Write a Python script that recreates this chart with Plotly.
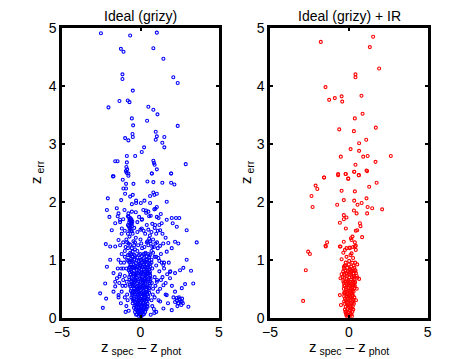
import plotly.graph_objects as go

# left panel: Ideal (grizy)
grizy_tail_x = [-2.52, -0.66, 1.04, -1.25, -1.08, 0.82, 1.46, -1.15, -1.15, 2.09, 2.37,
                -0.49, -1.34, -0.81, -0.70, -2.04, 0.50, 0.82, 1.08, -0.55, 0.42, -0.47,
                2.37, 0.97, -0.51, -0.98, -0.77, -0.49, 1.04, 0.97, 1.52, 1.39, 1.52, 0.23,
                0.08, -0.87, -0.34, -1.61, -1.46, -0.87, 0.82, 0.86, 0.90, 2.88, -0.90,
                -0.85, -0.93, -0.88, 0.72, 1.04, 1.95, -1.72]
grizy_tail_y = [4.91, 4.87, 4.92, 4.64, 4.59, 4.65, 4.47, 4.20, 4.12, 4.15, 4.05,
                3.92, 3.74, 3.75, 3.72, 3.63, 3.64, 3.59, 3.51, 3.44, 3.40, 3.32,
                3.31, 3.21, 3.17, 3.10, 3.06, 3.12, 3.13, 3.07, 3.12, 3.02, 2.94, 2.94,
                2.86, 2.79, 2.79, 2.70, 2.70, 2.68, 2.71, 2.67, 2.64, 2.65, 2.60,
                2.56, 2.53, 2.50, 2.49, 2.56, 2.49, 2.44]

grizy_mid_x = [-1.76, -0.77, -0.77, 0.72, 1.95, -1.13, 0.44, 0.82, 1.39, 1.95, 2.16,
               -0.92, -0.45, -1.09, -0.92, 0.82, 1.04, 0.61, 0.88, -0.49, -0.66, -0.28,
               -0.98, -2.08, -1.23, -0.55, -0.28, 0.02, 0.25, 0.61, 1.67, 1.04, 0.88,
               0.18, 0.50, 0.36, 1.29, -2.14, -1.51, -1.40, -1.02, -0.77, -0.55,
               -0.80, -0.70, -0.62, -0.55, -0.75, -0.66, -0.58,
               -1.98, -1.61, -1.30, -0.09, 0.08, 0.65, 1.04, 1.35, 1.67, 1.99, 2.26, 2.47,
               -1.83, -1.19, -0.55, 0.08, 0.93, 1.25, 2.05, 2.31, 2.94, 3.58,
               -2.21, -1.93, -1.40, -1.61, 0.40, 0.61, 1.77, 2.20, 2.41,
               -1.20, -1.00, -0.80, -0.60, -0.40, -0.20, 0.10, 0.30, 0.50, 0.70, 0.90,
               1.10, 1.30, -1.40, 1.50, -0.90, -0.70, -0.50, -0.30, 0.60, 0.80, 1.00,
               -0.80, -0.60, -0.70, -0.65, -0.55, 0.20, 0.40, 1.20, -1.10, 0.00,
               -0.85, -0.45, 0.55, 0.75, 0.95, -0.35, -0.65]
grizy_mid_y = [2.44, 2.49, 2.45, 2.49, 2.49, 2.38, 2.35, 2.34, 2.33, 2.33, 2.30,
               2.31, 2.31, 2.23, 2.23, 2.16, 2.14, 2.10, 2.12, 2.12, 2.09, 2.02,
               2.14, 2.06, 2.03, 1.96, 1.98, 1.98, 2.02, 1.98, 2.00, 1.91, 1.87,
               1.86, 1.83, 1.81, 1.79, 1.86, 1.89, 1.80, 1.86, 1.80, 1.83,
               1.75, 1.70, 1.66, 1.62, 1.58, 1.56, 1.68,
               1.74, 1.63, 1.69, 1.74, 1.69, 1.76, 1.74, 1.63, 1.69, 1.72, 1.72, 1.72,
               1.51, 1.54, 1.49, 1.54, 1.60, 1.51, 1.63, 1.57, 1.51, 1.30,
               1.27, 1.23, 1.34, 1.23, 1.30, 1.32, 1.29, 1.31, 1.28,
               1.10, 1.15, 1.20, 1.10, 1.25, 1.15, 1.20, 1.10, 1.25, 1.15, 1.05,
               1.20, 1.10, 1.00, 0.95, 1.35, 1.40, 1.45, 1.38, 1.42, 1.35, 1.45,
               1.60, 1.65, 1.55, 1.72, 1.58, 1.50, 1.60, 1.60, 1.70, 1.35,
               1.30, 1.32, 1.36, 1.22, 1.28, 1.18, 1.26]

grizy_mid2_x = [-1.30, -1.10, -0.95, -0.75, -0.55, -0.35, -0.15, 0.05, 0.25, 0.45, 0.65,
                0.85, 1.05, 1.25, 1.45,
                -1.20, -1.00, -0.80, -0.60, -0.40, -0.20, 0.00, 0.30, 0.50, 0.70, 0.90,
                1.10, 1.40, 1.60,
                -1.00, -0.80, -0.50, -0.10, 0.20, 0.40, 0.60, 0.80, 1.00, 1.20, -1.25,
                -0.72, -0.62, -0.68, -0.58, -0.75, -0.52, -0.70,
                -1.30, -0.20, 0.10, 0.55, 0.75, 1.15, -0.30, 0.35, -1.45, 0.95]
grizy_mid2_y = [1.25, 1.30, 1.22, 1.28, 1.20, 1.30, 1.25, 1.28, 1.22, 1.32, 1.28,
                1.22, 1.30, 1.24, 1.28,
                1.45, 1.50, 1.45, 1.50, 1.55, 1.48, 1.52, 1.45, 1.52, 1.48, 1.55,
                1.50, 1.45, 1.38,
                1.05, 1.08, 1.05, 1.08, 1.10, 1.06, 1.08, 1.12, 1.05, 0.98, 0.95,
                1.65, 1.62, 1.68, 1.70, 1.74, 1.66, 1.50,
                1.65, 1.65, 1.70, 1.75, 1.62, 1.72, 1.82, 1.85, 1.75, 1.88]

grizy_core_x = [-0.12, 0.05, 0.15, -0.22, 0.00,
                -0.35, -0.18, 0.02, 0.20, 0.30, -0.05,
                -0.42, -0.28, -0.10, 0.08, 0.25, 0.38, -0.20, 0.15,
                -0.50, -0.35, -0.18, 0.00, 0.18, 0.35, 0.45, -0.08, 0.28,
                -0.58, -0.42, -0.25, -0.10, 0.07, 0.22, 0.40, 0.50, -0.35, 0.12, 0.32,
                -0.62, -0.48, -0.30, -0.15, 0.02, 0.18, 0.35, 0.52, -0.40, -0.05, 0.27, 0.45,
                -0.68, -0.52, -0.36, -0.20, -0.04, 0.12, 0.28, 0.44, 0.58, -0.60, -0.28, 0.05, 0.36,
                -0.72, -0.56, -0.40, -0.24, -0.08, 0.08, 0.24, 0.40, 0.56, -0.48, -0.15, 0.18, 0.48,
                -0.75, -0.60, -0.42, -0.26, -0.10, 0.06, 0.22, 0.38, 0.55, -0.35, 0.00, 0.30,
                -0.70, -0.50, -0.30, -0.12, 0.10, 0.30, 0.50, -0.60, -0.20, 0.20,
                -0.05, 0.10, -0.20, 0.20, -0.45, 0.15, -0.30, 0.30, 0.00, -0.15, 0.05,
                -0.55, -0.38, -0.02, 0.42, -0.65, 0.55, -0.12, 0.25]
grizy_core_y = [0.03, 0.02, 0.05, 0.06, 0.07,
                0.10, 0.11, 0.09, 0.12, 0.10, 0.13,
                0.17, 0.16, 0.18, 0.16, 0.18, 0.15, 0.21, 0.22,
                0.25, 0.27, 0.24, 0.26, 0.25, 0.27, 0.24, 0.30, 0.31,
                0.35, 0.33, 0.36, 0.34, 0.37, 0.35, 0.33, 0.37, 0.40, 0.41, 0.42,
                0.46, 0.44, 0.47, 0.45, 0.48, 0.46, 0.44, 0.47, 0.51, 0.52, 0.53, 0.52,
                0.57, 0.58, 0.56, 0.59, 0.57, 0.60, 0.58, 0.56, 0.59, 0.63, 0.64, 0.65, 0.64,
                0.70, 0.68, 0.71, 0.69, 0.72, 0.70, 0.68, 0.71, 0.69, 0.76, 0.77, 0.76, 0.77,
                0.82, 0.84, 0.81, 0.83, 0.85, 0.82, 0.84, 0.81, 0.83, 0.89, 0.90, 0.88,
                0.95, 0.97, 0.94, 0.98, 0.95, 0.97, 0.94, 1.02, 1.04, 1.03,
                0.15, 0.30, 0.50, 0.40, 0.60, 0.55, 0.75, 0.80, 0.62, 0.40, 0.20,
                0.88, 1.08, 1.10, 1.00, 1.12, 1.05, 0.92, 0.95]

grizy_core2_x = [-0.05, 0.10, -0.15,
                 -0.30, -0.15, 0.00, 0.15, 0.30,
                 -0.38, -0.05, 0.05, 0.28, 0.40,
                 -0.45, -0.28, -0.12, 0.08, 0.20, 0.40,
                 -0.52, -0.45, -0.20, 0.00, 0.25, 0.45,
                 -0.58, -0.22, -0.10, 0.10, 0.20, 0.38, 0.55,
                 -0.52, -0.40, -0.15, 0.20, 0.28, 0.50, 0.62,
                 -0.64, -0.32, 0.00, 0.32, 0.62,
                 -0.68, -0.55, -0.05, 0.10, 0.38, 0.60,
                 -0.68, -0.50, -0.18, 0.15, 0.45, 0.62,
                 -0.62, -0.42, -0.05, 0.20, 0.40, 0.60,
                 -0.40, 0.00, 0.40, -0.85, 0.70]
grizy_core2_y = [0.05, 0.08, 0.09,
                 0.14, 0.14, 0.14, 0.14, 0.16,
                 0.21, 0.22, 0.20, 0.21, 0.20,
                 0.29, 0.30, 0.28, 0.29, 0.30, 0.29,
                 0.39, 0.41, 0.39, 0.40, 0.39, 0.40,
                 0.50, 0.49, 0.50, 0.50, 0.51, 0.49, 0.51,
                 0.62, 0.61, 0.62, 0.61, 0.63, 0.62, 0.63,
                 0.74, 0.73, 0.74, 0.73, 0.73,
                 0.79, 0.79, 0.79, 0.79, 0.79, 0.79,
                 0.88, 0.87, 0.87, 0.87, 0.87, 0.88,
                 0.92, 0.92, 0.93, 0.92, 0.92, 0.93,
                 1.00, 1.00, 1.00, 1.00, 1.00]

grizy_core3_x = [-0.28, 0.22, -0.08, 0.12,
                 -0.30, -0.12, 0.30, 0.45,
                 -0.50, -0.20, 0.00, 0.15, 0.32, 0.48,
                 -0.55, -0.38, -0.22, -0.08, 0.08, 0.25, 0.42, 0.55,
                 -0.65, -0.45, -0.30, -0.12, 0.05, 0.22, 0.40, 0.60,
                 -0.70, -0.48, -0.35, -0.18, -0.02, 0.14, 0.30, 0.48, 0.64,
                 -0.62, -0.40, -0.25, 0.05, 0.25, 0.40, 0.58,
                 -0.72, -0.55, -0.30, -0.05, 0.10, 0.25, 0.52,
                 -0.78, -0.55, -0.25, 0.05, 0.25, 0.55,
                 -0.70, -0.35, 0.10, 0.32, -0.50, 0.50]
grizy_core3_y = [0.05, 0.06, 0.12, 0.11,
                 0.23, 0.23, 0.23, 0.19,
                 0.32, 0.32, 0.33, 0.32, 0.35, 0.32,
                 0.43, 0.45, 0.43, 0.44, 0.43, 0.44, 0.45, 0.43,
                 0.54, 0.55, 0.53, 0.55, 0.54, 0.55, 0.54, 0.55,
                 0.66, 0.66, 0.67, 0.66, 0.68, 0.66, 0.67, 0.66, 0.67,
                 0.75, 0.75, 0.77, 0.77, 0.75, 0.76, 0.76,
                 0.86, 0.86, 0.86, 0.86, 0.88, 0.87, 0.86,
                 0.98, 0.99, 0.99, 0.99, 0.99, 0.99,
                 1.08, 1.06, 1.06, 1.12, 1.14, 1.10]

grizy_side_x = [-2.57, -2.40, -2.19, -1.93, -2.14, -2.25, -1.72, -1.61, -1.40, -1.61,
                -1.34, -1.72, -1.23,
                1.04, 1.46, 1.88, 2.20, 2.52, 2.73, 2.94, 3.22, 3.36, 2.63, 2.20, 2.31,
                2.41, 2.63, 3.05, 2.84, 1.67, 1.25, 1.46, 1.99, 0.88, 1.88, 1.46, 1.14,
                1.67, 1.99,
                -1.30, -1.10, -0.95, -1.20, -1.00, -0.90, -1.05, -1.50, -0.85, -0.90,
                0.75, 0.90, 0.80, 1.00, 0.70, 0.85, 1.20, 1.30, 1.10, 1.50, 1.70, 0.65,
                -0.75, 1.60, 1.80, 2.00,
                2.30, 2.40, 2.50, 2.60, 2.45, 2.20, 2.55, 2.35, 2.65, 2.70,
                -1.40, -1.25, -1.15, -1.35, -1.00, -0.88, -0.82, -1.45, -1.10, -0.95,
                0.72, 0.78, 0.95, 1.05, 0.90, 1.25, 1.15, 1.40, 0.70, 1.35, 1.60, 1.90,
                0.75, 1.00, 2.10, 1.75]
grizy_side_y = [0.42, 0.17, 0.33, 1.00, 0.88, 0.59, 0.45, 0.54, 0.39, 0.62,
                0.71, 0.77, 0.85,
                0.62, 0.56, 0.68, 0.77, 0.82, 0.86, 1.00, 0.81, 0.59, 0.51, 0.45, 0.34,
                0.25, 0.28, 0.19, 0.58, 0.39, 0.28, 0.16, 0.13, 0.08, 0.79, 0.91, 1.03,
                1.14, 1.20,
                0.75, 0.65, 0.55, 0.45, 0.35, 0.85, 0.95, 0.68, 0.40, 0.20,
                0.85, 0.70, 0.50, 0.90, 0.30, 0.15, 0.80, 0.65, 0.45, 0.85, 0.75, 0.05,
                0.12, 0.40, 0.95, 0.55,
                0.30, 0.25, 0.32, 0.22, 0.35, 0.27, 0.28, 0.20, 0.33, 0.25,
                0.35, 0.25, 0.55, 0.60, 0.72, 0.62, 0.30, 0.85, 0.85, 0.10,
                0.60, 0.40, 0.55, 0.65, 0.35, 0.50, 0.30, 0.70, 0.95, 0.95, 0.60, 0.80,
                0.20, 0.10, 0.35, 0.25]

# right panel: Ideal (grizy) + IR
ir_tail_x = [-1.78, 1.54, 1.33, 1.92, 0.42, 0.42, -1.48, -1.25, -0.89, -0.46, -0.42,
             0.80, 0.87, 0.38, -0.61, 0.32, 1.71, 1.10, 0.65, 0.11, 0.65, -0.51, 0.91,
             1.19, 2.66, 1.69, 0.42, -0.68, -0.21, 0.34, 0.63, 1.12, -1.57, -0.04]
ir_tail_y = [4.76, 4.85, 4.67, 4.30, 4.20, 4.15, 3.98, 3.76, 3.79, 3.82, 3.73,
             3.83, 3.52, 3.44, 3.25, 3.22, 3.28, 3.07, 3.01, 2.91, 2.88, 2.78, 2.78,
             2.79, 2.79, 2.69, 2.64, 2.48, 2.48, 2.52, 2.46, 2.54, 2.42, 2.40]

ir_mid_x = [-1.57, -0.68, -0.19, 0.63, 1.16, 0.34, -0.04, 1.76, -2.11, -2.00, 1.29,
            -0.46, 0.38, -2.37, -2.30, -0.32, 0.34, 1.12, 0.81, -0.74, 0.55, 1.19,
            1.48, 2.11, 0.32, 0.49, 1.16, -0.32, -0.15, -0.32, -0.57, 0.70, 0.74,
            -0.19, 0.44, 0.53, 0.23, 0.17, 0.13, 0.84, -1.38, -1.46, -0.32, 0.38,
            0.44, 0.27, -0.57, -0.15, 0.06]
ir_mid_y = [2.42, 2.46, 2.48, 2.46, 2.53, 2.52, 2.40, 2.33, 2.28, 2.22, 2.26,
            2.19, 2.18, 2.10, 1.91, 2.03, 2.02, 2.06, 1.98, 1.95, 1.95, 1.91,
            1.89, 1.87, 1.85, 1.80, 1.80, 1.77, 1.73, 1.70, 1.64, 1.63, 1.58,
            1.54, 1.50, 1.51, 1.40, 1.34, 1.37, 1.39, 1.30, 1.23, 1.31, 1.30,
            1.24, 1.22, 1.23, 1.20, 1.20]

ir_low_x = [-2.58, -2.47, -1.48, -2.73, -2.90,
            -0.53, -0.25, 0.06, 0.38, 0.44, 0.17, -0.15, -0.46, 0.02, 0.27, 0.53,
            -0.32, 0.06, 0.17, -0.46, 0.53, 0.65, -0.53, -0.25, 0.38, -0.57, -0.50,
            0.40, -0.20, 0.10, 0.30, -0.35, 0.50, 0.45]
ir_low_y = [1.14, 1.10, 1.24, 0.82, 0.29,
            1.23, 1.17, 1.21, 1.23, 1.17, 1.11, 1.05, 1.01, 0.98, 1.03, 0.92,
            0.88, 0.85, 0.81, 0.75, 0.69, 0.67, 0.68, 0.74, 0.62, 0.39, 0.22,
            0.95, 0.95, 1.08, 0.90, 1.12, 0.50, 0.30]

ir_core_x = [-0.10, 0.05, 0.15, -0.18, 0.00, 0.22,
             -0.25, -0.10, 0.05, 0.18, 0.28, -0.02,
             -0.28, -0.14, 0.00, 0.14, 0.28, -0.20, 0.08, 0.22,
             -0.30, -0.16, -0.02, 0.12, 0.26, 0.35, -0.22, 0.05, 0.20,
             -0.32, -0.18, -0.04, 0.10, 0.24, 0.36, -0.25, 0.00, 0.18,
             -0.35, -0.20, -0.05, 0.10, 0.25, 0.40, -0.28, 0.02, 0.30,
             -0.30, -0.15, 0.00, 0.15, 0.30, 0.45, -0.22, 0.08, 0.25,
             -0.05, 0.12, -0.12, 0.15, -0.08, 0.20, 0.32, -0.26,
             -0.05, 0.10, -0.15, 0.08,
             -0.20, 0.12, 0.25, -0.08,
             -0.25, -0.08, 0.15, 0.30,
             -0.28, -0.10, 0.10, 0.30,
             -0.30, -0.12, 0.08, 0.30,
             -0.32, -0.15, 0.15, 0.35, -0.40,
             -0.36, -0.08, 0.18, 0.38, 0.50,
             -0.25, 0.00, 0.15, 0.35, -0.10, 0.22]
ir_core_y = [0.02, 0.03, 0.06, 0.07, 0.09, 0.10,
             0.14, 0.15, 0.13, 0.16, 0.14, 0.19,
             0.24, 0.26, 0.23, 0.25, 0.27, 0.30, 0.31, 0.32,
             0.37, 0.36, 0.38, 0.36, 0.38, 0.35, 0.43, 0.44, 0.43,
             0.50, 0.49, 0.51, 0.50, 0.48, 0.51, 0.56, 0.57, 0.56,
             0.63, 0.62, 0.64, 0.62, 0.63, 0.61, 0.69, 0.70, 0.69,
             0.76, 0.77, 0.75, 0.78, 0.76, 0.77, 0.82, 0.83, 0.84,
             0.30, 0.20, 0.45, 0.42, 0.62, 0.70, 0.58, 0.90,
             0.05, 0.08, 0.11, 0.12,
             0.19, 0.19, 0.20, 0.21,
             0.33, 0.33, 0.34, 0.31,
             0.44, 0.41, 0.46, 0.45,
             0.55, 0.56, 0.55, 0.56,
             0.60, 0.67, 0.66, 0.66, 0.70,
             0.80, 0.80, 0.81, 0.80, 0.72,
             0.90, 0.92, 0.88, 0.86, 0.86, 0.95]

ir_core2_x = [-0.15, 0.20, -0.22, 0.10, -0.05, 0.20, -0.30, 0.32, -0.12, 0.05,
              0.22, -0.30, -0.18, 0.00, 0.18, 0.38, -0.25, 0.00, 0.20, -0.10,
              0.10, 0.30, -0.30, 0.05, 0.42]
ir_core2_y = [0.04, 0.03, 0.10, 0.16, 0.26, 0.27, 0.28, 0.24, 0.38, 0.37,
              0.40, 0.42, 0.52, 0.47, 0.51, 0.55, 0.62, 0.60, 0.60, 0.72,
              0.74, 0.72, 0.85, 0.78, 0.82]

left_x = (grizy_tail_x + grizy_mid_x + grizy_mid2_x + grizy_core_x + grizy_core2_x
          + grizy_core3_x + grizy_side_x)
left_y = (grizy_tail_y + grizy_mid_y + grizy_mid2_y + grizy_core_y + grizy_core2_y
          + grizy_core3_y + grizy_side_y)
right_x = ir_tail_x + ir_mid_x + ir_low_x + ir_core_x + ir_core2_x
right_y = ir_tail_y + ir_mid_y + ir_low_y + ir_core_y + ir_core2_y

FONT = "Liberation Sans, Arial, sans-serif"
W, H = 474, 359
OFF = 8  # page body margin shifts the figure by this much


def px(x):
    return (x - OFF) / W


def py(y):
    return 1 - (y - OFF) / H


fig = go.Figure()
fig.add_trace(go.Scatter(x=left_x, y=left_y, mode="markers",
                         marker=dict(symbol="circle-open", size=3, color="#0000ff",
                                     line=dict(width=1.1)),
                         xaxis="x", yaxis="y"))
fig.add_trace(go.Scatter(x=right_x, y=right_y, mode="markers",
                         marker=dict(symbol="circle-open", size=3, color="#ff0000",
                                     line=dict(width=1.1)),
                         xaxis="x2", yaxis="y2"))

ax = dict(showline=True, linewidth=2.5, linecolor="black", mirror="ticks",
          ticks="inside", ticklen=3, tickwidth=2, tickcolor="black", automargin=False,
          showgrid=False, zeroline=False, tickfont=dict(family=FONT, size=14, color="black"))

fig.update_layout(
    width=W, height=H,
    margin=dict(l=0, r=0, t=0, b=0, pad=0, autoexpand=False),
    plot_bgcolor="white", paper_bgcolor="white",
    showlegend=False,
    xaxis=dict(domain=[px(62), px(219)], range=[-5, 5], tickvals=[-5, 0, 5],
               anchor="y", **ax),
    yaxis=dict(domain=[py(317.7), py(28)], range=[0, 5], dtick=1,
               anchor="x", **ax),
    xaxis2=dict(domain=[px(270), px(427.7)], range=[-5, 5], tickvals=[-5, 0, 5],
                anchor="y2", **ax),
    yaxis2=dict(domain=[py(317.7), py(28)], range=[0, 5], dtick=1,
                anchor="x2", **ax),
)

titles = [("Ideal (grizy)", 140.5), ("Ideal (grizy) + IR", 349)]
for text, cx in titles:
    fig.add_annotation(text=text, x=px(cx), y=py(16.5), xref="paper", yref="paper",
                       xanchor="center", yanchor="middle",
                       showarrow=False, font=dict(family=FONT, size=14, color="black"))
    fig.add_annotation(text="z<sub> spec</sub> \u2013 z<sub> phot</sub>",
                       x=px(cx), y=py(347), xref="paper", yref="paper",
                       xanchor="center", yanchor="middle",
                       showarrow=False, font=dict(family=FONT, size=15, color="black"))

for cx in [36, 246]:
    fig.add_annotation(text="z<sub> err</sub>", x=px(cx), y=py(172),
                       xref="paper", yref="paper", textangle=-90, showarrow=False,
                       xanchor="center", yanchor="middle",
                       font=dict(family=FONT, size=15, color="black"))

fig.write_html("out.html")
